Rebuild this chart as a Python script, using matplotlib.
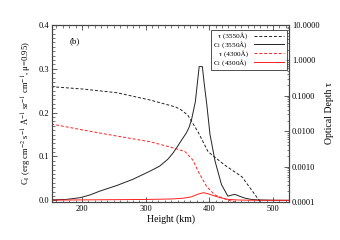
import matplotlib
matplotlib.use("Agg")
import matplotlib.pyplot as plt
from matplotlib.ticker import MultipleLocator, FixedLocator, FuncFormatter, LogLocator, NullFormatter

plt.rcParams['font.family'] = ['Liberation Serif', 'DejaVu Serif']
plt.rcParams['mathtext.fontset'] = 'stix'

# C_I (3550 Å) contribution function
h_c3550 = [152, 175, 197, 212, 228, 255, 280, 306, 322, 335, 343, 350, 358, 364, 368, 372, 378, 381, 384, 389, 392, 396, 401, 409, 419, 429, 435, 440, 450, 456, 466, 476, 500, 525]
c3550 = [0.001, 0.002, 0.006, 0.012, 0.021, 0.034, 0.048, 0.066, 0.078, 0.094, 0.108, 0.123, 0.141, 0.154, 0.166, 0.184, 0.225, 0.265, 0.305, 0.305, 0.265, 0.218, 0.150, 0.089, 0.036, 0.0095, 0.012, 0.0136, 0.008, 0.005, 0.002, 0.001, 0.0002, 0.0]

# C_I (4300 Å) contribution function
h_c4300 = [152, 200, 250, 300, 340, 360, 372, 382, 391, 400, 410, 420, 430, 445, 460, 500, 525]
c4300 = [0.0005, 0.001, 0.0015, 0.002, 0.003, 0.005, 0.008, 0.014, 0.0175, 0.014, 0.009, 0.005, 0.002, 0.0008, 0.0003, 0.0001, 0.0]

# optical depth tau (3550 Å)
h_t3550 = [152, 202, 255, 307, 346, 354, 366, 382, 398, 424, 451, 472, 482]
t3550 = [0.181, 0.155, 0.122, 0.076, 0.049, 0.042, 0.0287, 0.0097, 0.00264, 0.00111, 0.00052, 0.000158, 0.00009]

# optical depth tau (4300 Å)
h_t4300 = [152, 202, 255, 307, 346, 362, 374, 384, 396, 409, 429, 451]
t4300 = [0.016, 0.0108, 0.0073, 0.00505, 0.00329, 0.00264, 0.00154, 0.00065, 0.00027, 0.000158, 0.000114, 0.00009]

right_ticks = [1e-4, 1e-3, 1e-2, 1e-1, 1, 10]

frame = '#444444'
blk = '#222222'
red = '#ff2020'

fig = plt.figure(figsize=(3.4, 2.4), dpi=100)
ax = fig.add_axes([0.153, 0.158, 0.697, 0.738])
ax2 = ax.twinx()

ax.plot(h_c3550, c3550, color=blk, lw=0.7, label=r'C$_\mathrm{I}$ (3550Å)')
ax.plot(h_c4300, c4300, color=red, lw=0.7, label=r'C$_\mathrm{I}$ (4300Å)')
l1, = ax2.plot(h_t3550, t3550, color=blk, lw=0.7, dashes=(3, 2), label='τ (3550Å)')
l3, = ax2.plot(h_t4300, t4300, color=red, lw=0.7, dashes=(3, 2), label='τ (4300Å)')

ax.set_xlim(153, 525)
ax.set_ylim(-0.004, 0.4)
ax2.set_yscale('log')
ax2.set_ylim(1e-4, 10)

ax.xaxis.set_major_locator(MultipleLocator(100))
ax.xaxis.set_minor_locator(MultipleLocator(10))
ax.yaxis.set_major_locator(MultipleLocator(0.1))
ax.yaxis.set_minor_locator(MultipleLocator(0.01))
ax.yaxis.set_major_formatter(FuncFormatter(lambda v, p: '%.1f' % v))
ax2.yaxis.set_major_locator(FixedLocator(right_ticks))
ax2.yaxis.set_major_formatter(FuncFormatter(lambda v, p: '%.4f' % v))
ax2.yaxis.set_minor_locator(LogLocator(base=10, subs=range(2, 10)))
ax2.yaxis.set_minor_formatter(NullFormatter())

for a in (ax, ax2):
    for s in a.spines.values():
        s.set_color(frame)
        s.set_linewidth(0.8)
ax.tick_params(axis='both', which='both', direction='in', colors=frame, labelcolor='black', labelsize=6, pad=2)
ax.tick_params(axis='x', which='both', top=True)
ax.tick_params(axis='y', which='both', right=False)
ax.tick_params(which='major', length=3.5, width=0.6)
ax.tick_params(which='minor', length=1.8, width=0.5)
ax2.tick_params(axis='y', which='both', direction='in', colors=frame, labelcolor='black', labelsize=6, pad=2)
ax2.tick_params(which='major', length=3.5, width=0.6)
ax2.tick_params(which='minor', length=1.8, width=0.5)

ax.set_xlabel('Height (km)', fontsize=7, labelpad=1)
ax.set_ylabel(r'C$_\mathrm{I}$ (erg cm$^{-2}$ s$^{-1}$ Å$^{-1}$ sr$^{-1}$ cm$^{-1}$, μ=0.95)', fontsize=6.2, labelpad=3)
ax2.set_ylabel('Optical Depth τ', fontsize=7, labelpad=4)

ax.text(0.076, 0.91, '(b)', transform=ax.transAxes, fontsize=6.5, va='center', ha='left')

h1, lab1 = ax.get_legend_handles_labels()
handles = [l1, h1[0], l3, h1[1]]
labels = ['τ (3550Å)', r'C$_\mathrm{I}$ (3550Å)', 'τ (4300Å)', r'C$_\mathrm{I}$ (4300Å)']
leg = ax2.legend(handles, labels, loc='upper right', bbox_to_anchor=(0.99, 0.97), fontsize=5.2,
                 markerfirst=False, frameon=True, fancybox=False, handlelength=4.2,
                 borderpad=0.3, labelspacing=0.0, handletextpad=0.9, borderaxespad=0)
leg.get_frame().set_edgecolor('black')
leg.get_frame().set_linewidth(0.6)
for t in leg.get_texts():
    t.set_ha('right')

fig.savefig('out.png', dpi=100)
